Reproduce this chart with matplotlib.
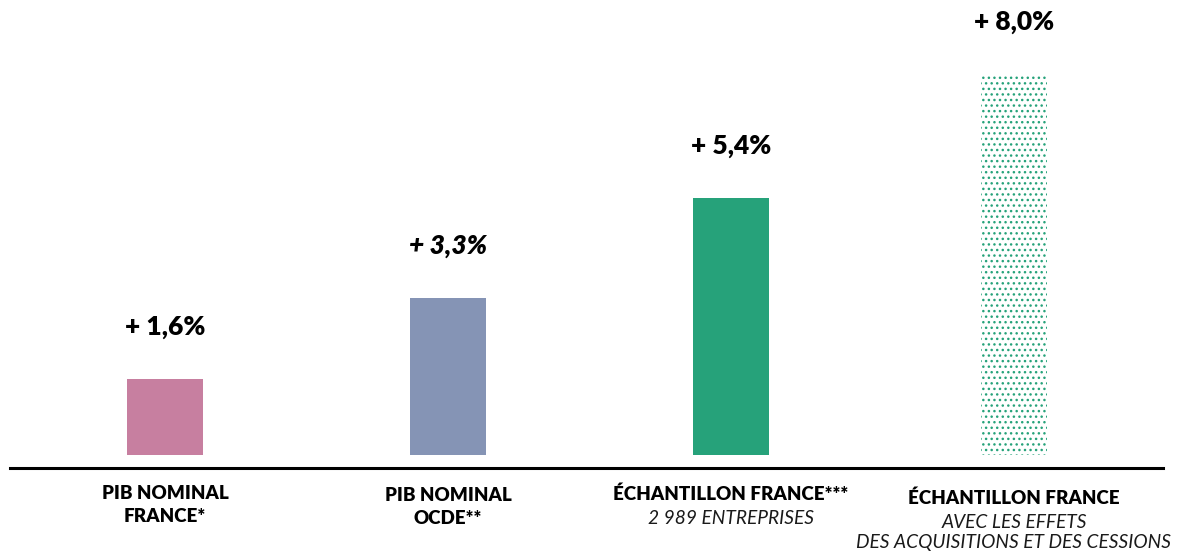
import numpy as np
import matplotlib.pyplot as plt
import matplotlib.transforms as mtrans
from matplotlib.lines import Line2D
plt.switch_backend('agg')

# data
values = [1.6, 3.3, 5.4, 8.0]
value_labels = ['+ 1,6%', '+ 3,3%', '+ 5,4%', '+ 8,0%']
titles = ['PIB NOMINAL\nFRANCE*', 'PIB NOMINAL\nOCDE**',
          'ÉCHANTILLON FRANCE***', 'ÉCHANTILLON FRANCE']
subtitles = ['', '', '2 989 ENTREPRISES',
             'AVEC LES EFFETS\nDES ACQUISITIONS ET DES CESSIONS']
colors = ['#c77fa0', '#8594b5', '#26a27a', '#26a27a']

plt.rcParams['font.family'] = ['Lato', 'DejaVu Sans']
plt.rcParams['hatch.color'] = '#26a27a'
plt.rcParams['hatch.linewidth'] = 1.0

W, H = 1177, 555
fig = plt.figure(figsize=(W / 100, H / 100), dpi=100)
# axes: baseline 100 px from bottom, 47.6 px per unit
ax = fig.add_axes([0, 100 / H, 1, 428 / H])
ax.set_ylim(0, 9)
ax.set_xlim(-165 / 283, (W - 165) / 283)
ax.axis('off')

x = np.arange(len(values))
for i, (v, c) in enumerate(zip(values, colors)):
    if i < 3:
        ax.bar(x[i], v, width=0.268, color=c, linewidth=0)
    else:
        ax.bar(x[i], v, width=0.235, facecolor='white', edgecolor=c,
               linewidth=0, hatch='...')
    style = 'italic' if i == 1 else 'normal'
    ax.annotate(value_labels[i], (x[i], v), xytext=(0, 37.5),
                textcoords='offset points', ha='center', va='center',
                fontsize=19, fontweight='heavy', style=style,
                annotation_clip=False)

fig.add_artist(Line2D([10 / W, 1163 / W], [87 / H, 87 / H],
                      color='black', lw=2.2, transform=fig.transFigure))

tr = mtrans.blended_transform_factory(ax.transData, fig.transFigure)
for i in range(len(values)):
    n_title = titles[i].count('\n') + 1
    top = 1 - 485 / H if i != 1 else 1 - 487 / H
    if i == 3:
        top = 1 - 489 / H
    ax.text(x[i], top, titles[i], transform=tr, ha='center', va='top',
            fontsize=13.5, fontweight='heavy', linespacing=1.4)
    if subtitles[i]:
        ax.text(x[i], top - (24.5 / H) * n_title, subtitles[i], transform=tr,
                ha='center', va='top', fontsize=13.8, style='italic',
                fontweight='normal', linespacing=1.25, color='#1a1a1a')

fig.savefig('out.png', dpi=100)
plt.close('all')
